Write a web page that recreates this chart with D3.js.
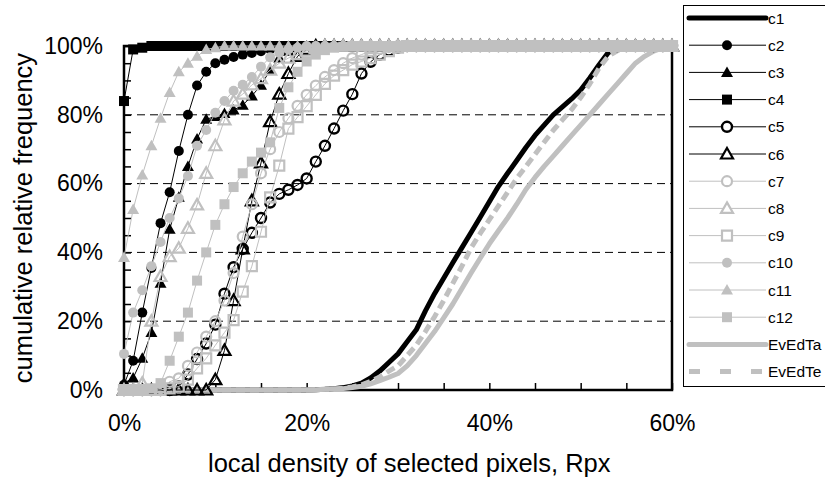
<!DOCTYPE html>
<html><head><meta charset="utf-8">
<script src="https://cdn.jsdelivr.net/npm/d3@7"></script>
<style>
body{margin:0;background:#fff}
text{font-family:"Liberation Sans",Arial,sans-serif}
</style>
</head><body>
<svg id="chart" width="825" height="477"></svg>
<script>
// x positions (local density, %)
const xValues = [0,1,2,3,4,5,6,7,8,9,10,11,12,13,14,15,16,17,18,19,20,21,22,23,24,25,26,27,28,29,30,31,32,33,34,35,36,37,38,39,40,41,42,43,44,45,46,47,48,49,50,51,52,53,54,55,56,57,58,59,60];
const xTickLabels = [0,20,40,60];
const yTickLabels = [0,20,40,60,80,100];

// cumulative relative frequency (%) per series
const c1 = [0,0,0,0,0,0,0,0,0,0, 0,0,0,0,0,0,0,0,0,0, 0,0.1,0.2,0.4,0.7,1.2,2,3.5,5.5,8, 10.5,14,17.5,23,28,32.5,37,41.4,45.8,50.2, 54.7,59.2,63,66.7,70.5,74,77,80,82.3,84.6, 87.2,90.7,94.5,98,99.6,100,100,100,100,100, 100];
const c2 = [1.5,8.5,22.5,35.5,48.5,57.5,69.5,80,88.5,92.5, 95,96,96.8,97.5,98,98.5,99,99.3,99.6,99.8, 100,100,100,100,100,100,100,100,100,100, 100,100,100,100,100,100,100,100,100,100, 100,100,100,100,100,100,100,100,100,100, 100,100,100,100,100,100,100,100,100,100, 100];
const c3 = [2,3.5,9.2,16.7,31,46.7,56,65,73,78.7, 79.5,80.4,81.4,82.8,85.5,88.6,93,96.5,98.5,99.5, 100,100,100,100,100,100,100,100,100,100, 100,100,100,100,100,100,100,100,100,100, 100,100,100,100,100,100,100,100,100,100, 100,100,100,100,100,100,100,100,100,100, 100];
const c4 = [84,99,99.5,100,100,100,100,100,100,100, 100,100,100,100,100,100,100,100,100,100, 100,100,100,100,100,100,100,100,100,100, 100,100,100,100,100,100,100,100,100,100, 100,100,100,100,100,100,100,100,100,100, 100,100,100,100,100,100,100,100,100,100, 100];
const c5 = [0,0,0,0,0,0,1,4.5,9,13.5, 19,28,35.7,41,45.7,50,54.5,57,58.2,59.6, 61.5,66.4,71,76,81.2,86,92,95.4,97.5,98.7, 99.5,100,100,100,100,100,100,100,100,100, 100,100,100,100,100,100,100,100,100,100, 100,100,100,100,100,100,100,100,100,100, 100];
const c6 = [0,0,0,0,0,0,0,0,0,0, 3,11.5,26,41,55,66,78,86,92,97, 99,100,100,100,100,100,100,100,100,100, 100,100,100,100,100,100,100,100,100,100, 100,100,100,100,100,100,100,100,100,100, 100,100,100,100,100,100,100,100,100,100, 100];
const c7 = [0,0,0,0,0.5,2.4,3.4,7,10.9,15.5, 20,26,34,44.6,54,63,70,75,79,82.6, 85.8,88.5,91,93,95,96.5,97.5,98.5,99.2,99.7, 100,100,100,100,100,100,100,100,100,100, 100,100,100,100,100,100,100,100,100,100, 100,100,100,100,100,100,100,100,100,100, 100];
const c8 = [0,0,2,20,33,38.8,41.2,47,53.8,63, 71,78.5,84,86,88.7,90.5,93,95,96.5,97.5, 98.5,99.2,100,100,100,100,100,100,100,100, 100,100,100,100,100,100,100,100,100,100, 100,100,100,100,100,100,100,100,100,100, 100,100,100,100,100,100,100,100,100,100, 100];
const c9 = [0,0,0,0,0,0.5,1,3,6.3,9.2, 13,16.7,20.3,28.6,36,46,56,65.2,76,79.3, 82.5,85.8,89,91.4,93,94.6,95.5,96.5,97.5,98.5, 99.5,100,100,100,100,100,100,100,100,100, 100,100,100,100,100,100,100,100,100,100, 100,100,100,100,100,100,100,100,100,100, 100];
const c10 = [10.5,22.5,29,36,43,50,55.7,62.2,71,75.6, 80.6,84,87,88.7,91,94,96.7,98,99,99.5, 100,100,100,100,100,100,100,100,100,100, 100,100,100,100,100,100,100,100,100,100, 100,100,100,100,100,100,100,100,100,100, 100,100,100,100,100,100,100,100,100,100, 100];
const c11 = [38.5,52.5,62.5,71,79,86.5,92.5,95,97,99, 99.5,100,100,100,100,100,100,100,100,100, 100,100,100,100,100,100,100,100,100,100, 100,100,100,100,100,100,100,100,100,100, 100,100,100,100,100,100,100,100,100,100, 100,100,100,100,100,100,100,100,100,100, 100];
const c12 = [0,0,0,0.5,2,8.5,15.5,22.5,31.8,40, 48,54,59,63,66.4,69,72,82,88,92.5, 95.5,97.5,98.8,99.5,99.8,100,100,100,100,100, 100,100,100,100,100,100,100,100,100,100, 100,100,100,100,100,100,100,100,100,100, 100,100,100,100,100,100,100,100,100,100, 100];
const EvEdTa = [0,0,0,0,0,0,0,0,0,0, 0,0,0,0,0,0,0,0,0,0, 0,0.1,0.2,0.3,0.4,0.7,1.1,1.8,2.7,3.7, 4.8,7,10,13.5,17,21,25,29.5,34,38.3, 42.5,46.3,50,54,58.3,61.8,65,68,71,74, 77,80,83,86,89,92,95,97,98.5,99.5, 100];
const EvEdTe = [0,0,0,0,0,0,0,0,0,0, 0,0,0,0,0,0,0,0,0,0, 0,0.1,0.2,0.3,0.5,0.9,1.5,2.5,3.8,5.5, 7,10,13,17,21.3,26,31,36,41.3,45.5, 49.5,53.5,57.5,61.5,65,68.5,72,75.5,78.5,81.5, 85,89,93.5,97,98.6,99.5,100,100,100,100, 100];

const seriesNames = ["c1","c2","c3","c4","c5","c6","c7","c8","c9","c10","c11","c12","EvEdTa","EvEdTe"];
const seriesData = {c1,c2,c3,c4,c5,c6,c7,c8,c9,c10,c11,c12,EvEdTa,EvEdTe};

const BLACK = "#000000", GRAY = "#c0c0c0";
const styles = {
  c1:{line:BLACK, lw:5, marker:null},
  c2:{line:BLACK, lw:1, marker:"circle", fill:BLACK, stroke:BLACK, sw:0},
  c3:{line:BLACK, lw:1, marker:"triangle", fill:BLACK, stroke:BLACK, sw:0},
  c4:{line:BLACK, lw:1, marker:"square", fill:BLACK, stroke:BLACK, sw:0},
  c5:{line:BLACK, lw:1, marker:"circle", fill:"none", stroke:BLACK, sw:2.4},
  c6:{line:BLACK, lw:1, marker:"triangle", fill:"none", stroke:BLACK, sw:2.2},
  c7:{line:GRAY, lw:1, marker:"circle", fill:"none", stroke:GRAY, sw:2.2},
  c8:{line:GRAY, lw:1, marker:"triangle", fill:"none", stroke:GRAY, sw:2.2},
  c9:{line:GRAY, lw:1, marker:"square", fill:"none", stroke:GRAY, sw:2.2},
  c10:{line:GRAY, lw:1, marker:"circle", fill:GRAY, stroke:GRAY, sw:0},
  c11:{line:GRAY, lw:1, marker:"triangle", fill:GRAY, stroke:GRAY, sw:0},
  c12:{line:GRAY, lw:1, marker:"square", fill:GRAY, stroke:GRAY, sw:0},
  EvEdTa:{line:GRAY, lw:5, marker:null},
  EvEdTe:{line:GRAY, lw:5, marker:null, dash:"9,5"}
};
const drawOrder = ["c1","EvEdTa","EvEdTe","c2","c3","c4","c5","c6","c7","c8","c9","c10","c11","c12"];

const svg = d3.select("#chart");
const FONT = '"Liberation Sans",Arial,sans-serif';
const x = d3.scaleLinear().domain([0,60]).range([124,672]);
const y = d3.scaleLinear().domain([0,100]).range([390,46]);

// gridlines
svg.append("g").selectAll("line").data([20,40,60,80]).join("line")
  .attr("x1", x(0)).attr("x2", x(60)).attr("y1", d=>y(d)).attr("y2", d=>y(d))
  .attr("stroke", BLACK).attr("stroke-width", 1).attr("stroke-dasharray", "8,5");

// minor ticks (inside)
const xMinor = svg.append("g").attr("transform", `translate(0,${y(0)})`)
  .call(d3.axisBottom(x).tickValues(d3.range(0,61,5)).tickSize(-7).tickFormat(""));
const yMinor = svg.append("g").attr("transform", `translate(${x(0)},0)`)
  .call(d3.axisLeft(y).tickValues(d3.range(0,101,5)).tickSize(-7).tickFormat(""));
[xMinor,yMinor].forEach(g=>{g.select(".domain").remove(); g.selectAll("line").attr("stroke",BLACK).attr("stroke-width",1.5);});

// tick labels
const xAxis = svg.append("g").attr("transform", `translate(0,${y(0)})`)
  .call(d3.axisBottom(x).tickValues(xTickLabels).tickSize(0).tickPadding(25).tickFormat(d=>d+"%"));
const yAxis = svg.append("g").attr("transform", `translate(${x(0)},0)`)
  .call(d3.axisLeft(y).tickValues(yTickLabels).tickSize(0).tickPadding(21).tickFormat(d=>d+"%"));
[xAxis,yAxis].forEach(g=>{g.select(".domain").remove(); g.selectAll("text").attr("font-size",23).attr("font-family",FONT).attr("fill",BLACK);});

// plot border
svg.append("rect").attr("x", x(0)).attr("y", y(100)).attr("width", x(60)-x(0)).attr("height", y(0)-y(100))
  .attr("fill","none").attr("stroke",BLACK).attr("stroke-width",2.5);

function markerPath(shape){
  if(shape==="circle") return d3.symbol(d3.symbolCircle, Math.PI*5*5)();
  if(shape==="square") return "M-5,-5H5V5H-5Z";
  if(shape==="triangle") return "M0,-6L6,4.5L-6,4.5Z";
  return "";
}

const line = d3.line().x((d,i)=>x(xValues[i])).y(d=>y(d));
const plot = svg.append("g");
drawOrder.forEach(name=>{
  const st = styles[name], vals = seriesData[name];
  const g = plot.append("g");
  g.append("path").datum(vals).attr("d", line).attr("fill","none")
    .attr("stroke", st.line).attr("stroke-width", st.lw)
    .attr("stroke-dasharray", st.dash||null).attr("stroke-linejoin","round");
  if(st.marker){
    g.selectAll("path.m").data(vals).join("path").attr("class","m")
      .attr("transform",(d,i)=>`translate(${x(xValues[i])},${y(d)})`)
      .attr("d", markerPath(st.marker))
      .attr("fill", st.fill).attr("stroke", st.sw? st.stroke : "none").attr("stroke-width", st.sw);
  }
});

// axis titles
svg.append("text").attr("x", 208).attr("y", 472).attr("text-anchor","start")
  .attr("font-size",25.5).attr("font-family",FONT).text("local density of selected pixels, Rpx");
svg.append("text").attr("transform",`translate(32,${(y(0)+y(100))/2}) rotate(-90)`).attr("text-anchor","middle")
  .attr("font-size",25.5).attr("font-family",FONT).text("cumulative relative frequency");

// legend
const leg = svg.append("g");
leg.append("rect").attr("x",683.5).attr("y",5.5).attr("width",200).attr("height",381)
  .attr("fill","#fff").attr("stroke",BLACK).attr("stroke-width",1);
seriesNames.forEach((name,i)=>{
  const st = styles[name], cy = 18 + i*27.2;
  const g = leg.append("g");
  g.append("line").attr("x1",689).attr("x2",766).attr("y1",cy).attr("y2",cy)
    .attr("stroke",st.line).attr("stroke-width",st.lw).attr("stroke-dasharray",st.dash? "11,20": null)
    .attr("stroke-linecap", (st.lw>2 && !st.dash)?"round":"butt");
  if(st.marker){
    g.append("path").attr("transform",`translate(727,${cy})`).attr("d",markerPath(st.marker))
      .attr("fill", st.fill==="none"?"#fff":st.fill).attr("stroke", st.sw? st.stroke:"none").attr("stroke-width", st.sw);
  }
  g.append("text").attr("x",768).attr("y",cy+5.5).attr("font-size",15.5).attr("font-family",FONT).text(name);
});
</script>
</body></html>
